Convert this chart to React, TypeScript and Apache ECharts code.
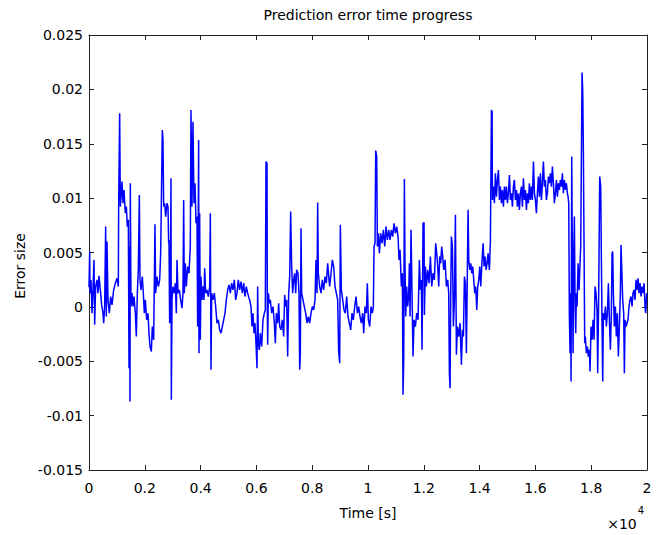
import React, { useEffect, useRef } from "react";
import * as echarts from "echarts";

// Time in seconds (axis shown in units of 10^4 s)
const timeSeconds = [
  0, 24, 36, 72, 108, 143, 179, 203, 239, 287, 323, 358, 406, 454, 502, 526, 561, 597, 621, 645,
  681, 729, 776, 824, 884, 944, 1004, 1051, 1063, 1099, 1123, 1159, 1183, 1219, 1254, 1302, 1338, 1374, 1410, 1434,
  1458, 1469, 1481, 1505, 1541, 1577, 1613, 1661, 1696, 1732, 1768, 1804, 1828, 1864, 1911, 1947, 1983, 2019, 2067, 2115,
  2150, 2186, 2234, 2270, 2318, 2365, 2389, 2437, 2485, 2533, 2569, 2628, 2652, 2676, 2712, 2748, 2796, 2831, 2855,
  2867, 2891, 2915, 2939, 2951, 2975, 3010, 3058, 3094, 3130, 3154, 3190, 3237, 3285, 3333, 3369, 3393, 3416, 3452, 3488,
  3536, 3584, 3631, 3655, 3691, 3727, 3763, 3799, 3835, 3871, 3894, 3930, 3942, 3966, 3990, 4014, 4050, 4086, 4122, 4146,
  4182, 4229, 4277, 4325, 4349, 4373, 4397, 4444, 4492, 4540, 4588, 4635, 4683, 4731, 4779, 4827, 4874, 4922, 4970, 5018,
  5066, 5113, 5161, 5209, 5257, 5304, 5352, 5400, 5448, 5496, 5544, 5591, 5639, 5687, 5734,
  5758, 5806, 5842, 5878, 5914, 5949, 5985, 6021, 6045, 6069, 6105, 6141, 6189, 6236, 6284, 6320, 6344, 6380, 6392, 6404,
  6428, 6464, 6499, 6547, 6595, 6643, 6679, 6715, 6762, 6798, 6834, 6882, 6930, 6977, 7013, 7049, 7085, 7121, 7157, 7193,
  7228, 7264, 7300, 7336, 7372, 7408, 7443, 7491, 7527, 7551, 7575, 7599, 7623, 7670, 7718, 7766, 7814, 7862, 7909, 7957,
  8005, 8053, 8101, 8136, 8172, 8196, 8220, 8268, 8316, 8363, 8411, 8459, 8507, 8555, 8602,
  8626, 8674, 8722, 8770, 8817, 8865, 8913, 8949, 8985, 9009, 9045, 9093, 9140, 9188, 9236, 9284, 9332, 9380, 9427, 9475,
  9523, 9571, 9619, 9666, 9714, 9762, 9810, 9846, 9893, 9941, 9977, 10013, 10061, 10109, 10157, 10192, 10216, 10252, 10276, 10312,
  10336, 10372, 10407, 10455, 10503, 10551, 10599, 10646, 10694, 10742, 10790, 10838, 10885, 10933, 10981, 11029, 11077, 11112, 11148, 11196,
  11232, 11256, 11280, 11304, 11327, 11351, 11387, 11423, 11459,
  11483, 11507, 11543, 11578, 11614, 11650, 11698, 11746, 11794, 11841, 11877, 11913, 11937, 11973, 12009, 12021, 12057, 12092, 12140, 12188,
  12236, 12284, 12331, 12379, 12427, 12463, 12499, 12535, 12570, 12606, 12642, 12678, 12714, 12762, 12810, 12857, 12893, 12917, 12941, 12965,
  12989, 13025, 13061, 13097, 13133, 13169, 13204, 13252, 13300, 13348, 13384, 13420, 13456, 13491, 13527, 13563, 13587, 13611, 13647, 13683,
  13719, 13755, 13790, 13826, 13862, 13898, 13934, 13970, 14006, 14041, 14089, 14125, 14161, 14197, 14233, 14269, 14304, 14340,
  14352, 14388, 14412, 14424, 14448, 14460, 14496, 14531, 14567, 14603, 14639, 14675, 14711, 14746, 14782, 14818, 14854, 14890, 14926, 14961,
  14997, 15033, 15069, 15105, 15141, 15176, 15212, 15248, 15284, 15320, 15355, 15391, 15427, 15463, 15499, 15535, 15570, 15606, 15642, 15678,
  15714, 15750, 15785, 15821, 15857, 15893, 15929, 15965, 16000, 16036, 16072, 16108, 16144, 16180, 16215, 16251, 16287, 16323, 16359, 16394,
  16430, 16466, 16502, 16538, 16574, 16609, 16645, 16681, 16717, 16753, 16789, 16824, 16860, 16896, 16932, 16968, 17003, 17039, 17075, 17111,
  17147, 17171, 17195,
  17218, 17242, 17266, 17278, 17302, 17326, 17350, 17373, 17397, 17421, 17445, 17469, 17493, 17529, 17565, 17600, 17624, 17648, 17672, 17696,
  17720, 17744, 17767, 17791, 17827, 17863, 17899, 17935, 17959, 17994, 18030, 18066, 18102, 18138, 18174, 18209, 18233, 18269, 18305, 18341,
  18365, 18389, 18413, 18436, 18472, 18508, 18544, 18580, 18616, 18651, 18687, 18723, 18747, 18771, 18795, 18830, 18866, 18902, 18938, 18974,
  19010, 19045, 19069, 19093, 19129, 19165, 19189, 19213, 19249, 19284, 19320, 19356, 19392, 19428, 19464, 19499, 19535, 19571, 19607, 19643,
  19679, 19714, 19750, 19786, 19822, 19858, 19894, 19930, 19953, 19989,
];

const predictionError = [
  0.0018, 0.00509, 0.00126, 0.00248, -0.00058, 0.00156, 0.00432, -0.00165, 0.00187, 0.00248, 0.00126, 0.00285, 0.00156, 0.00018, -0.00058, -0.0015, 0.00003, 0.00738, -0.00089, 0.006,
  0.00064, -0.00058, 0.00095, 0.00018, 0.00156, 0.00218, 0.00263, 0.00187, 0.00922, 0.0178, 0.00922, 0.01045, 0.01152, 0.00953, 0.01075, 0.00861, 0.00922, 0.00738, 0.008, -0.00564,
  0.00555, -0.0087, 0.01137, 0.00003, 0.00126, 0.00003, 0.00095, -0.00058, -0.00273, 0.00126, 0.0034, 0.01029, 0.00248, 0.00156, 0.00279, 0.00126, -0.00058, 0.00064, -0.00119, -0.00058,
  -0.00242, -0.00365, -0.00411, -0.00181, -0.00303, 0.0076, 0.00126, 0.00279, 0.00187, 0.00248, 0.00493, 0.01627, 0.01535, 0.00922, 0.00953, 0.0083, 0.00953, 0.00922, 0.00585,
  0.00616, -0.0015, 0.00126, 0.01183, -0.00855, 0.00064, 0.00187, 0.00126, 0.00218, -0.00058, 0.00432, 0.00126, 0.00156, 0.00064, -0.00012, 0.00126, 0.00983, 0.00126, 0.00401, 0.00187,
  0.00371, 0.00309, 0.00555, 0.01811, 0.00922, 0.01703, 0.00953, 0.01137, 0.00769, 0.0083, -0.00181, 0.01535, -0.00426, 0.00861, -0.00303, 0.00279, 0.00064, 0.00187, 0.00064, 0.00355,
  0.00126, 0.00156, 0.00095, 0.00187, 0.00861, -0.00579, 0.00126, 0.00064, 0.00126, 0.00003, -0.0015, -0.00119, -0.00211, -0.00242, -0.00181, -0.00119, -0.00058, 0.00064, 0.00156, 0.00202,
  0.00126, 0.00218, 0.00156, 0.00248, 0.00064, 0.00126, 0.00248, 0.00156, 0.00233, 0.00126, 0.00218, 0.00095, 0.00187, 0.00126, 0.0008,
  0.00064, 0.00003, -0.00181, -0.00058, -0.00242, -0.0015, -0.00334, -0.00564, 0.00187, -0.00334, -0.00395, -0.00242, -0.00365, -0.00119, -0.00058, -0.00028, 0.01336, 0.0132, -0.00028, -0.00349,
  0.00126, 0.00034, 0.00064, -0.00058, 0.00003, -0.0015, -0.00334, -0.00058, -0.0015, 0.00034, -0.00181, -0.00211, -0.00119, -0.00273, 0.0011, 0.00003, 0.00064, -0.00457, 0.00126, 0.00279,
  0.00876, 0.00371, 0.00126, 0.00248, 0.00309, 0.00126, 0.0034, 0.00309, 0.00126, -0.00579, -0.00426, 0.00723, 0.00126, 0.00064, 0.00003, -0.00058, -0.0015, -0.00089, -0.0015, -0.00058,
  0.00003, -0.00028, 0.00064, 0.00432, 0.00126, 0.00959, 0.00309, 0.00187, 0.00126, 0.00248, 0.00156, 0.00279, 0.00218, 0.00401, 0.00248,
  0.00187, 0.00309, 0.00432, 0.00371, 0.00187, 0.00126, 0.00064, -0.00411, -0.00518, 0.00754, 0.00156, 0.00064, -0.00028, -0.00058, 0.00095, -0.00089, -0.0015, -0.00211, -0.00058, -0.00119,
  0.00003, 0.00095, -0.00058, 0.00003, -0.00089, -0.0015, -0.00058, -0.00242, 0.00003, -0.00058, 0.00218, -0.00119, -0.00181, 0.00003, -0.00058, 0.00003, 0.00555, 0.00585, 0.01437, 0.01382,
  0.00555, 0.00677, 0.00493, 0.00677, 0.00585, 0.00708, 0.00555, 0.00738, 0.00616, 0.00708, 0.00616, 0.00708, 0.00646, 0.00769, 0.00677, 0.00738, 0.00646, 0.00432, 0.00524, 0.00187,
  0.00309, -0.00809, -0.00487, 0.01176, 0.00371, -0.00089, 0.00187, 0.00003, 0.00126,
  0.00401, -0.00089, 0.00708, 0.00126, -0.00457, -0.00119, -0.00181, -0.00058, -0.00119, 0.00432, 0.00156, 0.00248, -0.00395, 0.00769, 0.00775, -0.00074, 0.00371, 0.00187, 0.0034, 0.00218,
  0.00463, 0.00187, 0.00309, 0.00248, 0.00585, 0.00493, 0.00371, 0.00187, 0.00463, 0.00401, 0.00555, 0.00463, 0.0034, 0.00432, 0.00187, 0.00248, 0.00126, -0.0061, -0.00748, 0.00126,
  0.00646, 0.00555, -0.00181, 0.00064, 0.00846, -0.00441, -0.00181, -0.00273, -0.0015, -0.00533, -0.00211, -0.00273, 0.00279, 0.00218, -0.00426, 0.00371, 0.00892, 0.00432, 0.0034, 0.00401,
  0.00309, 0.00371, 0.00248, 0.00126, 0.00187, -0.00028, 0.00187, 0.00248, 0.00371, 0.00187, 0.00432, 0.00585, 0.00371, 0.00463, 0.0034, 0.00401, 0.00493, 0.00371,
  0.0034, 0.00616, 0.00616, 0.01811, 0.01795, 0.00983, 0.01106, 0.00953, 0.01229, 0.01014, 0.01167, 0.01259, 0.00983, 0.01106, 0.00953, 0.01075, 0.00922, 0.01106, 0.00983, 0.01106,
  0.00953, 0.01045, 0.01213, 0.00983, 0.01045, 0.00922, 0.01106, 0.01167, 0.00983, 0.01075, 0.00922, 0.01045, 0.00892, 0.01045, 0.01106, 0.00922, 0.01183, 0.00983, 0.01075, 0.00892,
  0.01045, 0.00953, 0.01137, 0.00983, 0.01106, 0.00983, 0.01336, 0.01045, 0.00983, 0.00861, 0.01045, 0.01198, 0.01014, 0.01229, 0.00983, 0.01137, 0.01336, 0.01106, 0.01167, 0.00983,
  0.01045, 0.01198, 0.01137, 0.01229, 0.01106, 0.0129, 0.01137, 0.00953, 0.01045, 0.01167, 0.01014, 0.01137, 0.01075, 0.01167, 0.01106, 0.01229, 0.01045, 0.01167, 0.01075, 0.01137,
  0.01045, 0.01014, 0.00953,
  -0.00089, -0.00426, 0.00126, -0.00686, 0.01382, 0.00432, -0.00426, 0.00463, 0.0083, 0.00064, -0.00242, 0.00126, 0.00003, 0.00401, 0.00156, 0.00401, 0.00555, 0.00555, 0.02154, 0.01994,
  0.01412, 0.00555, -0.00334, -0.00273, -0.00426, -0.00365, -0.00457, -0.00395, -0.00594, -0.00181, -0.00303, -0.00119, -0.00303, 0.00187, 0.00126, -0.00028, -0.0061, 0.00126, 0.01198, 0.01106,
  0.00432, -0.00181, -0.00686, -0.00058, -0.00119, 0.00003, -0.00181, -0.00058, 0.00218, -0.00119, -0.00395, -0.00058, 0.00493, 0.00509, 0.00126, -0.00181, 0.00003, -0.00273, -0.00058, -0.00457,
  -0.00181, 0.00126, 0.0057, 0.00371, 0.00064, -0.00058, -0.0061, -0.00119, -0.00181, -0.0015, -0.00119, 0.00003, 0.00064, 0.00095, 0.00003, 0.00126, 0.00156, 0.00064, 0.00248, 0.00156,
  0.00263, 0.00126, 0.00218, 0.00095, 0.00187, 0.00126, 0.00218, 0.00003, -0.00058, 0.00126,
];

const xTickLabels = ["0", "0.2", "0.4", "0.6", "0.8", "1", "1.2", "1.4", "1.6", "1.8", "2"];
const yTickLabels = ["-0.015", "-0.01", "-0.005", "0", "0.005", "0.01", "0.015", "0.02", "0.025"];

const FONT = "DejaVu Sans";

export default function App() {
  const ref = useRef<HTMLDivElement>(null);
  useEffect(() => {
    if (!ref.current) return;
    const chart = echarts.init(ref.current, undefined, { renderer: "svg" });
    const n = Math.min(timeSeconds.length, predictionError.length);
    const data: number[][] = [];
    for (let i = 0; i < n; i++) data.push([timeSeconds[i], predictionError[i]]);

    const baseX = {
      type: "value" as const,
      min: 0,
      max: 20000,
      interval: 2000,
      splitLine: { show: false },
      axisLine: { show: true, onZero: false, lineStyle: { color: "#222", width: 1 } },
      axisTick: { show: true, inside: true, length: 5, lineStyle: { color: "#222" } },
    };
    const baseY = {
      type: "value" as const,
      min: -0.015,
      max: 0.025,
      interval: 0.005,
      splitLine: { show: false },
      axisLine: { show: true, onZero: false, lineStyle: { color: "#222", width: 1 } },
      axisTick: { show: true, inside: true, length: 5, lineStyle: { color: "#222" } },
    };

    chart.setOption({
      animation: false,
      backgroundColor: "#fff",
      grid: { left: 89, top: 35, width: 558, height: 435, containLabel: false },
      xAxis: [
        {
          ...baseX,
          position: "bottom",
          axisLabel: {
            show: true,
            margin: 11,
            color: "#000",
            fontSize: 14,
            fontFamily: FONT,
            formatter: (v: number) => xTickLabels[Math.round(v / 2000)] ?? "",
          },
        },
        { ...baseX, position: "top", axisLabel: { show: false } },
      ],
      yAxis: [
        {
          ...baseY,
          position: "left",
          axisLabel: {
            show: true,
            margin: 6,
            color: "#000",
            fontSize: 14,
            fontFamily: FONT,
            formatter: (v: number) => yTickLabels[Math.round((v + 0.015) / 0.005)] ?? "",
          },
        },
        { ...baseY, position: "right", axisLabel: { show: false } },
      ],
      series: [
        {
          type: "line",
          xAxisIndex: 0,
          yAxisIndex: 0,
          data,
          showSymbol: false,
          symbol: "none",
          lineStyle: { color: "#0000ff", width: 1.5 },
          itemStyle: { color: "#0000ff" },
        },
      ],
      graphic: [
        {
          type: "text",
          x: 368,
          y: 15,
          style: {
            text: "Prediction error time progress",
            fontSize: 14,
            fontFamily: FONT,
            fill: "#000",
            align: "center",
            verticalAlign: "middle",
            textAlign: "center",
            textVerticalAlign: "middle",
          },
        },
        {
          type: "text",
          x: 368,
          y: 513,
          style: {
            text: "Time [s]",
            fontSize: 14,
            fontFamily: FONT,
            fill: "#000",
            align: "center",
            verticalAlign: "middle",
            textAlign: "center",
            textVerticalAlign: "middle",
          },
        },
        {
          type: "text",
          x: 20,
          y: 266,
          rotation: Math.PI / 2,
          style: {
            text: "Error size",
            fontSize: 14,
            fontFamily: FONT,
            fill: "#000",
            align: "center",
            verticalAlign: "middle",
            textAlign: "center",
            textVerticalAlign: "middle",
          },
        },
        {
          type: "text",
          x: 622,
          y: 524,
          style: {
            text: "×10",
            fontSize: 14,
            fontFamily: FONT,
            fill: "#000",
            align: "center",
            verticalAlign: "middle",
            textAlign: "center",
            textVerticalAlign: "middle",
          },
        },
        {
          type: "text",
          x: 641,
          y: 510,
          style: {
            text: "4",
            fontSize: 10,
            fontFamily: FONT,
            fill: "#000",
            align: "center",
            verticalAlign: "middle",
            textAlign: "center",
            textVerticalAlign: "middle",
          },
        },
      ],
    });
    return () => chart.dispose();
  }, []);

  return (
    <div
      ref={ref}
      style={{ position: "absolute", left: 0, top: 0, width: 663, height: 535, background: "#fff" }}
    />
  );
}
